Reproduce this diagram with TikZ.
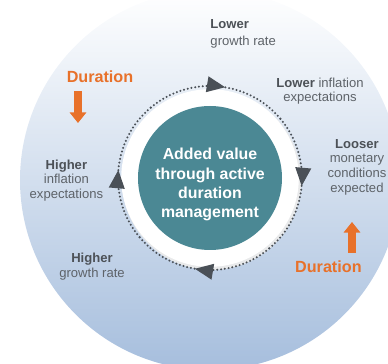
\documentclass[tikz,border=0pt]{standalone}
\usepackage{fontspec}
\setmainfont{Liberation Sans}
\usepackage{xcolor}
\usepackage{tikz}
\usetikzlibrary{arrows.meta, decorations.markings}

\definecolor{coreteal}{HTML}{4B8894}
\definecolor{durorange}{HTML}{E8712A}
\definecolor{notegray}{HTML}{5E6369}
\definecolor{emphgray}{HTML}{4C5157}
\definecolor{ringgray}{HTML}{4A5057}
\definecolor{discblue}{HTML}{A6BEDD}

\newcommand{\emphword}[1]{\textcolor{emphgray}{\textbf{#1}}}

\begin{document}
\begin{tikzpicture}
		\tikzstyle{note} = [text=notegray, align=center, inner sep=1pt, font=\fontsize{9.3}{10.4}\selectfont]
		\tikzstyle{core} = [circle, fill=coreteal, minimum size=3.6cm, inner sep=0pt]
		\tikzstyle{coretext} = [text=white, align=center, inner sep=0pt, font=\fontsize{11.3}{13.7}\selectfont\bfseries]
		\tikzstyle{dur} = [text=durorange, inner sep=1pt, font=\fontsize{11.5}{13}\selectfont\bfseries]
		\tikzstyle{durarrow} = [durorange, line width=5.5pt, -{Triangle[length=7.5pt, width=11.5pt]}]
		\tikzset{ring/.style={ringgray, line width=1.6pt, line cap=round, dash pattern=on 0pt off 2.7pt,
			postaction={decorate}, decoration={markings, mark=at position #1 with {\arrow{Triangle[length=13pt, width=11pt]}}}}}
		
		\useasboundingbox (-5.25, -4.65) rectangle (4.45, 4.45);
		
		% shaded disc and the white band round the core
		\shade[top color=white, middle color=discblue!45!white, bottom color=discblue] (0, -0.05) circle (4.75);
		\fill[ringgray!12] (0.04, -0.06) circle (2.24);
		\fill[white] (0, 0) circle (2.22);
		
		\node[core]		at (0, 0)		(core)		{};
		\node[coretext]	at (0, -0.17)	(coretxt)	{Added value\\through active\\duration\\management};
		
		% corners of the cycle
		\coordinate (nw) at (130:2.3);
		\coordinate (ne) at (40:2.3);
		\coordinate (se) at (-50:2.3);
		\coordinate (sw) at (-140:2.3);
		
		\draw[ring=0.55] (nw) arc[start angle=130, end angle=40, radius=2.3];
		\draw[ring=0.5] (ne) arc[start angle=40, end angle=-50, radius=2.3];
		\draw[ring=0.55] (se) arc[start angle=-50, end angle=-140, radius=2.3];
		\draw[ring=0.5] (sw) arc[start angle=-140, end angle=-230, radius=2.3];
		
		\node[note, anchor=west, align=left]	at (-0.03, 3.61)	(lowgrowth)	{\emphword{Lower}\\[1.5pt]growth rate};
		\node[note]	at (2.75, 2.175)	(lowinfl)	{\emphword{Lower} inflation\\expectations};
		\node[note]	at (3.675, 0.275)	(looser)	{\emphword{Looser}\\monetary\\conditions\\expected};
		\node[note]	at (-3.59, -0.06)	(highinfl)	{\emphword{Higher}\\inflation\\expectations};
		\node[note]	at (-2.95, -2.21)	(highgrowth)	{\emphword{Higher}\\growth rate};
		
		\node[dur]	at (-2.75, 2.525)	(durdown)	{Duration};
		\node[dur]	at (2.96, -2.225)	(durup)		{Duration};
		
		\coordinate (downfrom) at (-3.3, 2.175);
		\coordinate (downto) at (-3.3, 1.375);
		\coordinate (upfrom) at (3.55, -1.875);
		\coordinate (upto) at (3.55, -1.1);
		
		\draw[durarrow] (downfrom) -- (downto);
		\draw[durarrow] (upfrom) -- (upto);
	\end{tikzpicture}
\end{document}
